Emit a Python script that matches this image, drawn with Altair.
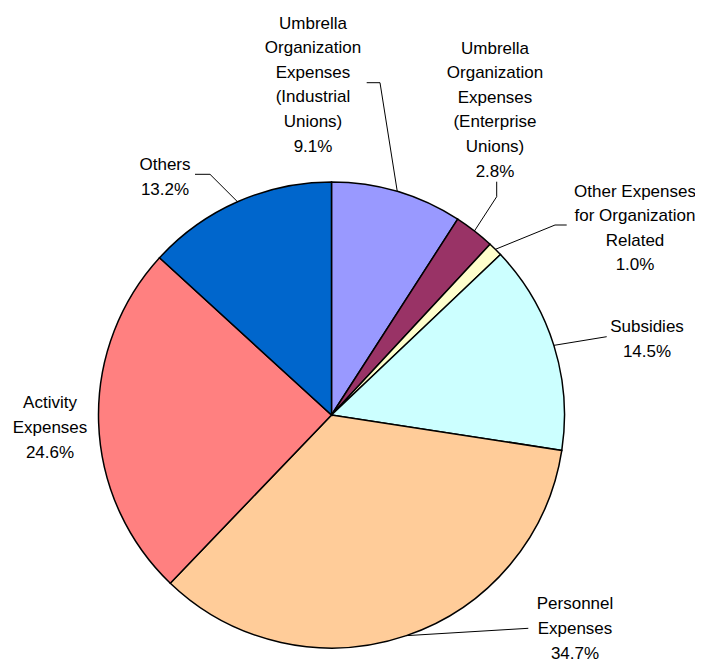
import math
import altair as alt
import pandas as pd

# ---- data ----
categories = [
    "Umbrella Organization Expenses (Industrial Unions)",
    "Umbrella Organization Expenses (Enterprise Unions)",
    "Other Expenses for Organization Related",
    "Subsidies",
    "Personnel Expenses",
    "Activity Expenses",
    "Others",
]
label_text = [
    "Umbrella\nOrganization\nExpenses\n(Industrial\nUnions)",
    "Umbrella\nOrganization\nExpenses\n(Enterprise\nUnions)",
    "Other Expenses\nfor Organization\nRelated",
    "Subsidies",
    "Personnel\nExpenses",
    "Activity\nExpenses",
    "Others",
]
shares = [9.1, 2.8, 1.0, 14.5, 34.7, 24.6, 13.2]
colors = ["#9999FF", "#993366", "#FFFFCC", "#CCFFFF", "#FFCC99", "#FF8080", "#0066CC"]

# ---- layout (pixels inside the chart) ----
CX, CY, R = 323.5, 407.0, 233.0
LH = 24.6
label_pos = [(305, 77), (487, 102), (627, 220.5), (639, 331.5), (567, 621), (42, 420), (157, 169.5)]
leader_pts = [
    [(372, 74.7), (358.7, 74.7)],
    [(488.7, 188.7), (488.7, 173.7)],
    [(547, 217), (558.7, 217)],
    [(598.7, 328.7)],
    [(520.3, 620.3)],
    [],
    [(202, 166.3), (187, 166.3)],
]

total = sum(shares)
pie = pd.DataFrame({"category": categories, "share": shares, "idx": range(len(shares))})

lab_rows, line_rows = [], []
cum = 0.0
for i, (cat, v) in enumerate(zip(categories, shares)):
    mid = (cum + v / 2) / total * 2 * math.pi
    cum += v
    lx, ly = label_pos[i]
    txt = f"{label_text[i]}\n{v:.1f}%"
    n = txt.count("\n") + 1
    lab_rows.append({"category": cat, "text": txt, "x": lx, "y": ly - (n - 1) / 2 * LH})
    if leader_pts[i]:
        pts = [(CX + R * math.sin(mid), CY - R * math.cos(mid))] + leader_pts[i]
        for k, (px, py) in enumerate(pts):
            line_rows.append({"category": cat, "k": k, "x": px, "y": py})

labels = pd.DataFrame(lab_rows)
lines = pd.DataFrame(line_rows)

arcs = alt.Chart(pie).mark_arc(outerRadius=R, stroke="black", strokeWidth=1.5).encode(
    theta=alt.Theta("share:Q", stack=True),
    order=alt.Order("idx:Q"),
    color=alt.Color("category:N", scale=alt.Scale(domain=categories, range=colors), legend=None),
    x=alt.value(CX),
    y=alt.value(CY),
)

leaders = alt.Chart(lines).mark_line(color="black", strokeWidth=1).encode(
    x=alt.X("x:Q", scale=None, axis=None),
    y=alt.Y("y:Q", scale=None, axis=None),
    detail="category:N",
    order="k:Q",
)

texts = alt.Chart(labels).mark_text(
    font="Liberation Sans", fontSize=17, lineBreak="\n", lineHeight=LH,
    align="center", baseline="middle", color="black",
).encode(
    x=alt.X("x:Q", scale=None, axis=None),
    y=alt.Y("y:Q", scale=None, axis=None),
    text="text:N",
)

chart = alt.layer(arcs, leaders, texts).properties(
    width=687, height=656,
    autosize=alt.AutoSizeParams(type="none"),
    padding=0,
).configure_view(stroke=None)

chart.save("out.html", embed_options={"renderer": "svg", "actions": False})
